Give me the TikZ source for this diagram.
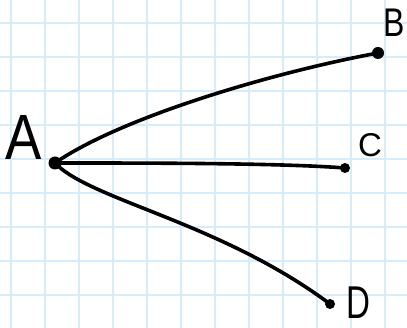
\documentclass[tikz,border=0pt]{standalone}
\usepackage{fontspec}
\setmainfont{Liberation Sans}
\definecolor{gridblue}{RGB}{214,236,250}
\tikzset{
  dot/.style={circle, fill=black, inner sep=0pt, minimum size=#1},
  lbl/.style={inner sep=0pt, text=black},
  edge/.style={line width=3.6pt, line cap=round, black},
  gridline/.style={gridblue, line width=1.7pt}
}
\begin{document}
\begin{tikzpicture}[x=1pt, y=-1pt]
\useasboundingbox (0,0) rectangle (407,328);
\fill[white] (0,0) rectangle (407,328);
\foreach \i in {0,...,11} { \draw[gridline] ({11+34*\i},0) -- ({11+34*\i},328); }
\foreach \j in {0,...,9} { \draw[gridline] (0,{23.3+34*\j}) -- (407,{23.3+34*\j}); }
\node[dot=13pt] (A) at (55,163) {};
\node[dot=12pt] (B) at (378,53) {};
\node[dot=10pt] (C) at (345,168) {};
\node[dot=10pt] (D) at (330,304) {};
\draw[edge] (A.center) .. controls (120,118) and (270,73) .. (B.center);
\draw[edge] (A.center) .. controls (150,163) and (280,163) .. (C.center);
\draw[edge] (A.center) .. controls (90,200) and (220,222) .. (D.center);
\node[lbl, font=\fontsize{64}{64}\selectfont, xscale=0.85] (lA) at (24,137) {A};
\node[lbl, font=\fontsize{40}{40}\selectfont, xscale=0.8] (lB) at (394,23) {B};
\node[lbl, font=\fontsize{33}{33}\selectfont] (lC) at (370,145) {C};
\node[lbl, font=\fontsize{46}{46}\selectfont, xscale=0.72] (lD) at (358,303) {D};
\end{tikzpicture}
\end{document}
